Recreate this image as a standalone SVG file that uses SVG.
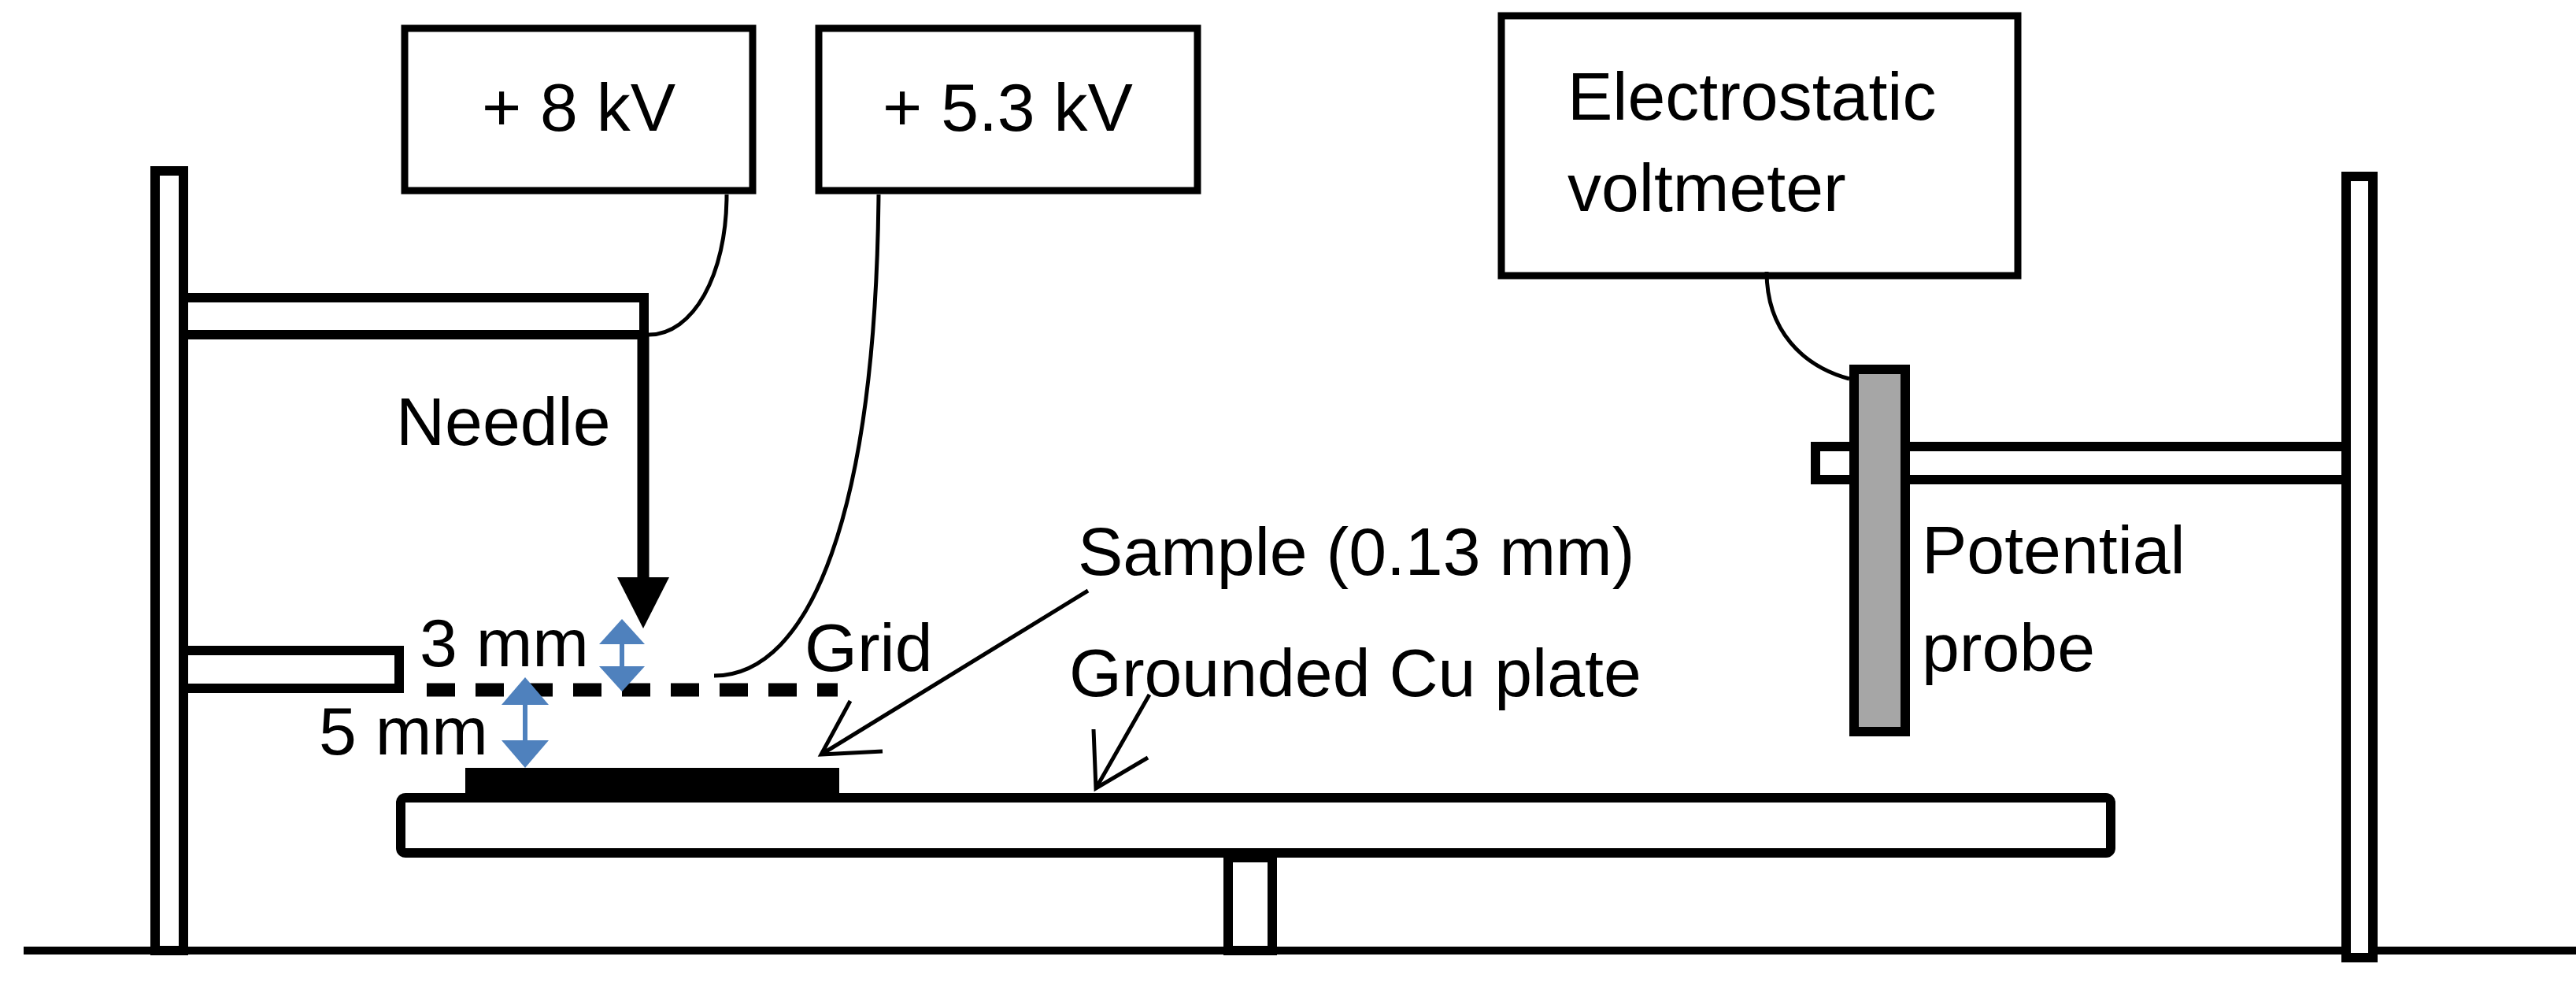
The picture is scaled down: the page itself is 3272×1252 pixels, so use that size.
<svg xmlns="http://www.w3.org/2000/svg" width="3272" height="1252" viewBox="0 0 3272 1252">
<style>
.o{fill:#fff;stroke:#000;stroke-width:12}
.b{fill:#fff;stroke:#000;stroke-width:9}
.w{fill:none;stroke:#000;stroke-width:5}
text{font-family:"Liberation Sans",Arial,sans-serif;font-size:86px;fill:#000}
.bl{stroke:#4f81bd;stroke-width:6}
.bh{fill:#4f81bd}
</style>
<rect width="3272" height="1252" fill="#fff"/>
<g id="ground"><line x1="30" y1="1207" x2="3272" y2="1207" stroke="#000" stroke-width="10"/></g>
<g id="left-post"><rect class="o" x="197" y="217" width="36" height="990"/></g>
<g id="upper-arm"><rect class="o" x="233" y="378" width="585" height="47"/></g>
<g id="lower-arm"><rect class="o" x="233" y="826" width="274" height="48"/></g>
<g id="right-post"><rect class="o" x="2980" y="224" width="34" height="992"/></g>
<g id="right-arm"><rect class="o" x="2306" y="567" width="674" height="42"/></g>
<g id="plate"><rect class="o" x="509" y="1013" width="2172" height="70" rx="6"/></g>
<g id="stand"><rect class="o" x="1560" y="1089" width="56" height="118"/></g>
<g id="sample"><rect x="591" y="975" width="475" height="34" fill="#000"/></g>
<g id="needle"><line x1="817" y1="425" x2="817" y2="740" stroke="#000" stroke-width="15"/><polygon points="784,733 850,733 817,798" fill="#000"/></g>
<g id="grid"><line x1="542" y1="876" x2="1064" y2="876" stroke="#000" stroke-width="17" stroke-dasharray="36,26"/></g>
<g id="probe"><rect x="2355" y="469" width="65" height="460" fill="#a6a6a6" stroke="#000" stroke-width="12"/></g>
<g id="box-8kv"><rect class="b" x="514" y="36" width="442" height="206"/><text x="735" y="166" text-anchor="middle">+ 8 kV</text></g>
<g id="box-53kv"><rect class="b" x="1040" y="36" width="481" height="206"/><text x="1280" y="166" text-anchor="middle">+ 5.3 kV</text></g>
<g id="box-voltmeter"><rect class="b" x="1907" y="20" width="656" height="330"/><text x="1991" y="152">Electrostatic</text><text x="1991" y="268">voltmeter</text></g>
<g id="labels">
<text x="503" y="565">Needle</text>
<text x="533" y="846">3 mm</text>
<text x="405" y="958">5 mm</text>
<text x="1022" y="852">Grid</text>
<text x="1369" y="730">Sample (0.13 mm)</text>
<text x="1358" y="884">Grounded Cu plate</text>
<text x="2441" y="728">Potential</text>
<text x="2441" y="852">probe</text>
</g>
<g id="connectors">
<path class="w" d="M923,247 C923,350 880,425 824,425"/>
<path class="w" d="M1116,247 C1112,650 1030,858 907,858"/>
<path class="w" d="M2244,345 C2244,420 2290,465 2349,481"/>
<path class="w" d="M1382,750 L1043,958 M1080,890 L1043,958 L1121,954" stroke-width="6"/>
<path class="w" d="M1460,882 L1392,1001 M1389,926 L1392,1001 L1458,962" stroke-width="6"/>
<line class="bl" x1="790" y1="815" x2="790" y2="850"/>
<polygon class="bh" points="761,818 819,818 790,786"/>
<polygon class="bh" points="761,846 819,846 790,878"/>
<line class="bl" x1="667" y1="890" x2="667" y2="945"/>
<polygon class="bh" points="637,895 697,895 667,860"/>
<polygon class="bh" points="637,940 697,940 667,975"/>
</g>
</svg>
